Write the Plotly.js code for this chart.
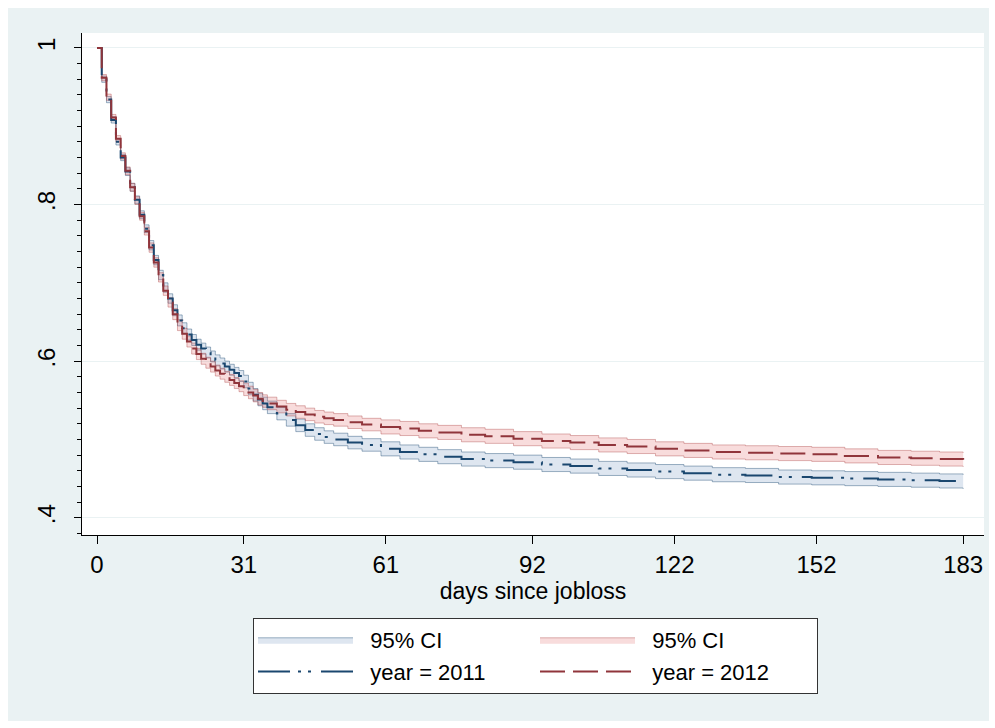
<!DOCTYPE html>
<html>
<head>
<meta charset="utf-8">
<script src="https://cdn.plot.ly/plotly-3.0.1.min.js"></script>
<style>
  html, body { margin: 0; padding: 0; background: #ffffff; }
  #chart { width: 995px; height: 728px; }
</style>
</head>
<body>
<div id="chart"></div>
<script>
// ---- data ----
var days = [0,1,2,3,4,5,6,7,8,9,10,11,12,13,14,15,16,17,18,19,20,21,22,23,24,25,26,27,28,29,30,31,32,33,34,35,36,38,40,42,44,46,48,50,53,56,60,64,68,72,77,82,88,94,100,106,112,118,124,130,137,144,151,158,165,172,178,183];

var surv2011 = [1.000,0.960,0.934,0.908,0.880,0.860,0.842,0.822,0.806,0.787,0.769,0.748,0.729,0.710,0.694,0.680,0.665,0.652,0.642,0.634,0.627,0.621,0.616,0.611,0.606,0.601,0.597,0.593,0.589,0.585,0.581,0.574,0.565,0.557,0.551,0.546,0.541,0.533,0.525,0.518,0.512,0.507,0.503,0.500,0.496,0.493,0.488,0.484,0.481,0.478,0.475,0.473,0.471,0.468,0.466,0.463,0.461,0.459,0.457,0.455,0.454,0.452,0.451,0.450,0.449,0.448,0.447,0.446];
var lo2011 = [1.000,0.956,0.930,0.904,0.876,0.856,0.837,0.817,0.801,0.782,0.764,0.742,0.723,0.704,0.688,0.674,0.658,0.645,0.635,0.627,0.620,0.614,0.609,0.604,0.599,0.594,0.590,0.586,0.582,0.578,0.574,0.566,0.557,0.549,0.543,0.538,0.533,0.525,0.517,0.510,0.504,0.499,0.495,0.492,0.488,0.485,0.479,0.475,0.472,0.469,0.466,0.464,0.462,0.459,0.457,0.454,0.452,0.450,0.448,0.446,0.445,0.443,0.442,0.441,0.440,0.439,0.438,0.437];
var hi2011 = [1.000,0.964,0.938,0.912,0.884,0.864,0.847,0.827,0.811,0.792,0.774,0.754,0.735,0.716,0.700,0.686,0.672,0.659,0.649,0.641,0.634,0.628,0.623,0.618,0.613,0.608,0.604,0.600,0.596,0.592,0.588,0.582,0.573,0.565,0.559,0.554,0.549,0.541,0.533,0.526,0.520,0.515,0.511,0.508,0.504,0.501,0.497,0.493,0.490,0.487,0.484,0.482,0.480,0.477,0.475,0.472,0.470,0.468,0.466,0.464,0.463,0.461,0.460,0.459,0.458,0.457,0.456,0.455];

var surv2012 = [1.000,0.962,0.937,0.911,0.884,0.862,0.843,0.822,0.805,0.785,0.766,0.745,0.726,0.707,0.690,0.675,0.660,0.646,0.635,0.625,0.616,0.609,0.603,0.598,0.593,0.588,0.584,0.580,0.576,0.572,0.568,0.564,0.560,0.556,0.552,0.549,0.546,0.542,0.538,0.535,0.532,0.529,0.527,0.525,0.522,0.519,0.516,0.514,0.511,0.509,0.506,0.504,0.501,0.498,0.496,0.493,0.491,0.488,0.486,0.484,0.483,0.482,0.481,0.479,0.477,0.476,0.475,0.474];
var lo2012 = [1.000,0.958,0.933,0.907,0.880,0.858,0.838,0.817,0.800,0.780,0.761,0.739,0.720,0.701,0.684,0.669,0.653,0.639,0.628,0.618,0.609,0.602,0.596,0.591,0.586,0.581,0.577,0.573,0.569,0.565,0.561,0.556,0.552,0.548,0.544,0.541,0.538,0.534,0.530,0.527,0.524,0.521,0.519,0.517,0.514,0.511,0.507,0.505,0.502,0.500,0.497,0.495,0.492,0.489,0.487,0.484,0.482,0.479,0.477,0.475,0.474,0.473,0.472,0.470,0.468,0.467,0.466,0.465];
var hi2012 = [1.000,0.966,0.941,0.915,0.888,0.866,0.848,0.827,0.810,0.790,0.771,0.751,0.732,0.713,0.696,0.681,0.667,0.653,0.642,0.632,0.623,0.616,0.610,0.605,0.600,0.595,0.591,0.587,0.583,0.579,0.575,0.572,0.568,0.564,0.560,0.557,0.554,0.550,0.546,0.543,0.540,0.537,0.535,0.533,0.530,0.527,0.525,0.523,0.520,0.518,0.515,0.513,0.510,0.507,0.505,0.502,0.500,0.497,0.495,0.493,0.492,0.491,0.490,0.488,0.486,0.485,0.484,0.483];

var xTicks = [0,31,61,92,122,152,183];
var yTickVals = [0.4,0.6,0.8,1];
var yTickText = ['.4','.6','.8','1'];
var seriesNames = ['year = 2011','year = 2012'];
var ciName = '95% CI';

// ---- styles ----
var navy = '#1a476f', maroon = '#90353b';
var regular = '"Liberation Sans", Arial, sans-serif';
var pad = '\u00a0\u00a0';

var traces = [
  {x: days, y: lo2011, type: 'scatter', mode: 'lines', line: {shape: 'hv', color: 'rgba(26,71,111,0.42)', width: 1},
   showlegend: false, legendgroup: 'a', hoverinfo: 'skip'},
  {x: days, y: hi2011, type: 'scatter', mode: 'lines', line: {shape: 'hv', color: 'rgba(26,71,111,0.42)', width: 1},
   fill: 'tonexty', fillcolor: 'rgba(90,130,180,0.20)', name: pad + ciName, legendgroup: 'a'},
  {x: days, y: lo2012, type: 'scatter', mode: 'lines', line: {shape: 'hv', color: 'rgba(170,60,60,0.38)', width: 1},
   showlegend: false, legendgroup: 'b', hoverinfo: 'skip'},
  {x: days, y: hi2012, type: 'scatter', mode: 'lines', line: {shape: 'hv', color: 'rgba(170,60,60,0.38)', width: 1},
   fill: 'tonexty', fillcolor: 'rgba(225,95,95,0.22)', name: pad + ciName, legendgroup: 'b'},
  {x: days, y: surv2011, type: 'scatter', mode: 'lines', name: pad + seriesNames[0], legendgroup: 'a',
   line: {shape: 'hv', color: navy, width: 2, dash: '32px,8px,3px,7px,3px,10px'}},
  {x: days, y: surv2012, type: 'scatter', mode: 'lines', name: pad + seriesNames[1], legendgroup: 'b',
   line: {shape: 'hv', color: maroon, width: 2, dash: '25px,8px'}}
];

var L = 82, R = 11, T = 33, B = 193;
var W = 995 - L - R, H = 728 - T - B;
function px(x) { return (x - L) / W; }
function py(y) { return (728 - B - y) / H; }

var layout = {
  width: 995, height: 728,
  margin: {l: L, r: R, t: T, b: B, pad: 0},
  paper_bgcolor: '#ffffff',
  plot_bgcolor: '#ffffff',
  font: {family: regular, color: '#000000'},
  showlegend: true,
  shapes: [
    {type: 'rect', xref: 'paper', yref: 'paper', layer: 'below',
     x0: px(8), x1: px(989), y0: py(721), y1: py(8), fillcolor: '#eaf2f3', line: {width: 0}},
    {type: 'rect', xref: 'paper', yref: 'paper', layer: 'below',
     x0: 0, x1: 1, y0: 0, y1: 1, fillcolor: '#ffffff', line: {width: 0}}
  ],
  xaxis: {
    range: [-3.17, 187.4], tickmode: 'array', tickvals: xTicks,
    ticks: 'outside', ticklen: 8, tickwidth: 1, tickcolor: '#000',
    showline: true, linecolor: '#000', linewidth: 1, showgrid: false, zeroline: false,
    tickfont: {family: regular, size: 24, color: '#000'},
    title: {text: 'days since jobloss', font: {family: regular, size: 23, color: '#000'}, standoff: 4}
  },
  yaxis: {
    range: [0.378, 1.019], tickmode: 'array', tickvals: yTickVals, ticktext: yTickText,
    tickangle: -90, ticks: 'outside', ticklen: 7, tickwidth: 1, tickcolor: '#000',
    ticklabelstandoff: 9,
    minor: {dtick: 0.02, ticks: 'outside', ticklen: 4, tickcolor: '#000', showgrid: false},
    showline: true, linecolor: '#000', linewidth: 1,
    showgrid: true, gridcolor: '#eaf2f3', gridwidth: 1, zeroline: false,
    tickfont: {family: regular, size: 24, color: '#000'}
  },
  legend: {
    orientation: 'h', traceorder: 'grouped',
    x: px(253), xanchor: 'left', y: py(618), yanchor: 'top',
    bgcolor: '#ffffff', bordercolor: '#333333', borderwidth: 1,
    font: {family: regular, size: 22, color: '#000'},
    itemwidth: 95, entrywidth: 172, tracegroupgap: 8
  }
};

Plotly.newPlot('chart', traces, layout, {displayModeBar: false, staticPlot: true});
</script>
</body>
</html>
